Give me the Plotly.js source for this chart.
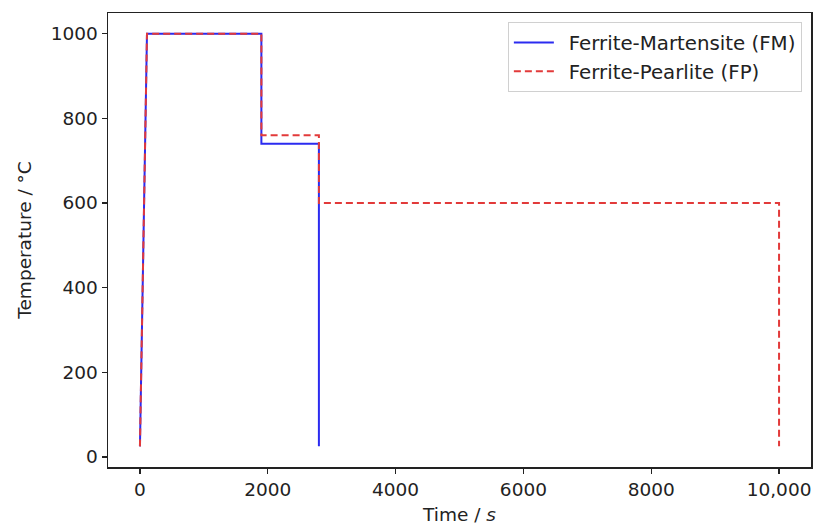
<!DOCTYPE html>
<html>
<head>
<meta charset="utf-8">
<script src="https://cdn.plot.ly/plotly-3.0.1.min.js"></script>
<style>html,body{margin:0;padding:0;background:#fff;}#chart{width:813px;height:525px;}</style>
</head>
<body>
<div id="chart"></div>
<script>
const fmTime = [0, 110, 1900, 1900, 2800, 2800];
const fmTemp = [25, 1000, 1000, 740, 740, 25];
const fpTime = [0, 110, 1900, 1900, 2800, 2800, 10000, 10000];
const fpTemp = [25, 1000, 1000, 760, 760, 600, 600, 25];
const xTickVals = [0, 2000, 4000, 6000, 8000, 10000];
const xTickText = ['0', '2000', '4000', '6000', '8000', '10,000'];
const yTickVals = [0, 200, 400, 600, 800, 1000];
const seriesNames = ['Ferrite-Martensite (FM)', 'Ferrite-Pearlite (FP)'];

const font = {family: 'DejaVu Sans, sans-serif', size: 18.5, color: '#222'};
const data = [
  {x: fmTime, y: fmTemp, mode: 'lines', name: '\u2002' + seriesNames[0],
   line: {color: '#2b2bf0', width: 2}},
  {x: fpTime, y: fpTemp, mode: 'lines', name: '\u2002' + seriesNames[1],
   line: {color: '#e23a3a', width: 2, dash: '7px,4px'}}
];
const layout = {
  width: 813, height: 525,
  margin: {l: 108, r: 2, t: 13, b: 58},
  paper_bgcolor: '#fff', plot_bgcolor: '#fff',
  font: font,
  showlegend: true,
  legend: {x: 0.987, y: 0.98, xanchor: 'right', yanchor: 'top',
    bordercolor: '#d0d0d0', borderwidth: 1, bgcolor: 'rgba(255,255,255,0.9)',
    font: {family: 'DejaVu Sans, sans-serif', size: 19.8, color: '#222'},
    itemwidth: 40, tracegroupgap: 0},
  xaxis: {range: [-500, 10500], tickvals: xTickVals, ticktext: xTickText,
    showgrid: false, zeroline: false, showline: true, mirror: true,
    linecolor: '#222', linewidth: 1.5, ticks: 'outside', ticklen: 5,
    tickcolor: '#222', tickwidth: 1.2,
    title: {text: 'Time / <i>s</i>', font: font, standoff: 9}},
  yaxis: {range: [-23.75, 1048.75], tickvals: yTickVals,
    showgrid: false, zeroline: false, showline: true, mirror: true,
    linecolor: '#222', linewidth: 1.5, ticks: 'outside', ticklen: 5,
    tickcolor: '#222', tickwidth: 1.2,
    title: {text: 'Temperature / °C', font: font, standoff: 14}}
};
Plotly.newPlot('chart', data, layout, {staticPlot: true, displayModeBar: false});
</script>
</body>
</html>
